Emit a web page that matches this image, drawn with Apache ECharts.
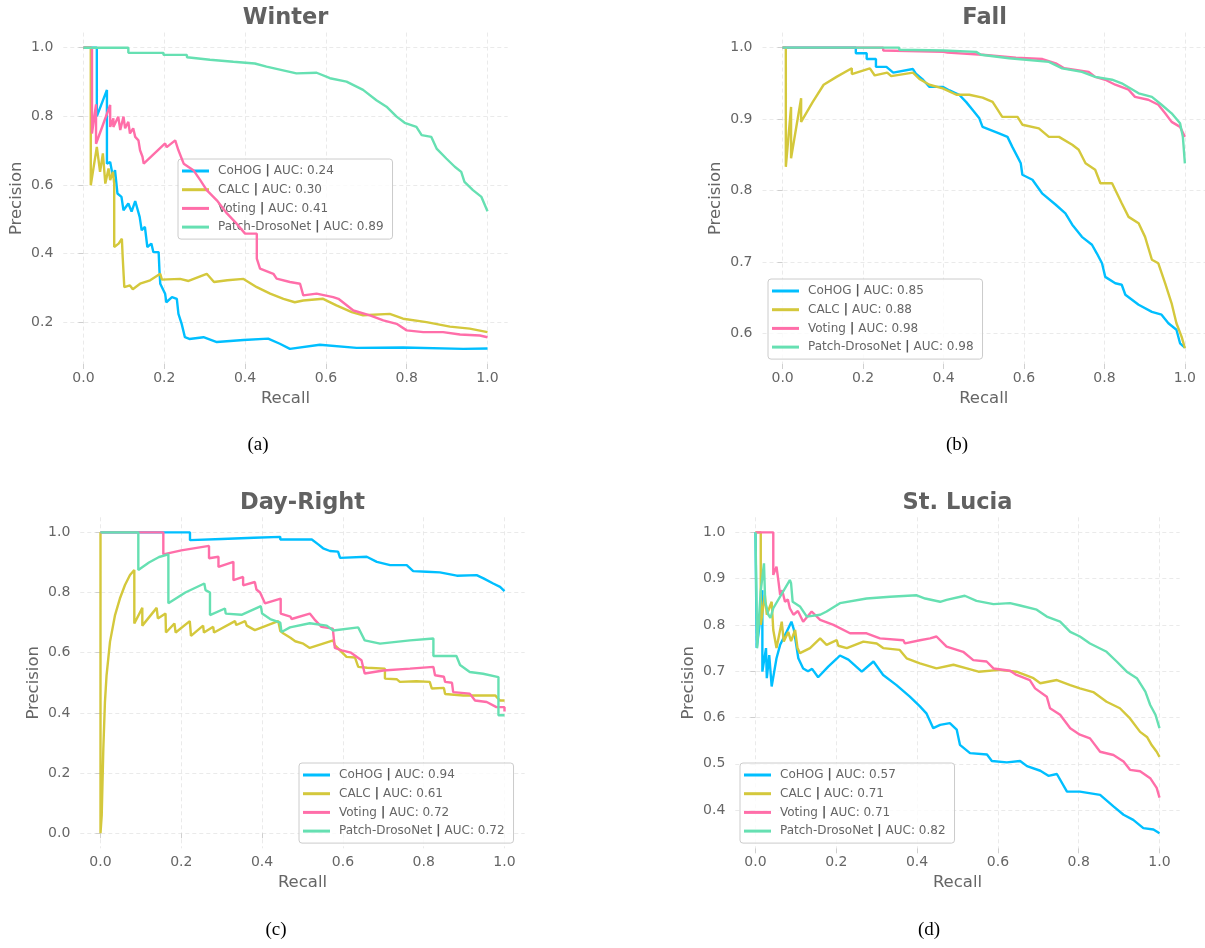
<!DOCTYPE html>
<html><head><meta charset="utf-8">
<script src="https://cdn.jsdelivr.net/npm/echarts@6/dist/echarts.min.js"></script>
<style>html,body{margin:0;padding:0;background:#fff}#c{width:1205px;height:948px}</style>
</head><body><div id="c"></div>
<script>
// ---------------- data ----------------
const methods = ['CoHOG', 'CALC', 'Voting', 'Patch-DrosoNet'];
const panelTitles = ['Winter', 'Fall', 'Day-Right', 'St. Lucia'];
const captions = ['(a)', '(b)', '(c)', '(d)'];
const aucWinter = ['0.24', '0.30', '0.41', '0.89'];
const aucFall = ['0.85', '0.88', '0.98', '0.98'];
const aucDayRight = ['0.94', '0.61', '0.72', '0.72'];
const aucStLucia = ['0.57', '0.71', '0.71', '0.82'];

const xTicks = [0.0, 0.2, 0.4, 0.6, 0.8, 1.0];
const yTicksWinter = [0.2, 0.4, 0.6, 0.8, 1.0];
const yTicksFall = [0.6, 0.7, 0.8, 0.9, 1.0];
const yTicksDayRight = [0.0, 0.2, 0.4, 0.6, 0.8, 1.0];
const yTicksStLucia = [0.4, 0.5, 0.6, 0.7, 0.8, 0.9, 1.0];

// [recall, precision]
const winterCoHOG = [[0,1],[0.033,1],[0.033,0.80],[0.058,0.877],[0.058,0.662],[0.066,0.667],[0.073,0.623],[0.078,0.643],[0.084,0.575],[0.094,0.565],[0.099,0.526],[0.111,0.546],[0.119,0.522],[0.128,0.553],[0.139,0.507],[0.144,0.468],[0.152,0.478],[0.158,0.419],[0.168,0.429],[0.173,0.404],[0.186,0.404],[0.188,0.351],[0.190,0.312],[0.202,0.283],[0.205,0.258],[0.219,0.273],[0.231,0.268],[0.235,0.224],[0.243,0.195],[0.251,0.156],[0.262,0.151],[0.297,0.156],[0.330,0.142],[0.396,0.148],[0.457,0.152],[0.486,0.137],[0.511,0.122],[0.585,0.134],[0.676,0.125],[0.791,0.126],[0.940,0.122],[1.0,0.123]];
const winterCALC = [[0,1],[0.018,1],[0.018,0.599],[0.033,0.711],[0.041,0.638],[0.048,0.692],[0.054,0.604],[0.062,0.648],[0.066,0.614],[0.073,0.638],[0.076,0.604],[0.076,0.419],[0.087,0.429],[0.095,0.443],[0.097,0.390],[0.101,0.302],[0.115,0.307],[0.122,0.296],[0.140,0.312],[0.165,0.322],[0.190,0.341],[0.194,0.324],[0.239,0.326],[0.260,0.320],[0.305,0.341],[0.323,0.317],[0.356,0.322],[0.396,0.326],[0.429,0.302],[0.462,0.283],[0.495,0.268],[0.523,0.258],[0.544,0.263],[0.593,0.268],[0.626,0.249],[0.664,0.229],[0.692,0.220],[0.758,0.224],[0.791,0.210],[0.849,0.200],[0.907,0.187],[0.956,0.181],[1.0,0.171]];
const winterVoting = [[0,1],[0.021,1],[0.021,0.75],[0.031,0.835],[0.031,0.72],[0.066,0.833],[0.066,0.769],[0.074,0.794],[0.074,0.769],[0.086,0.799],[0.091,0.760],[0.099,0.799],[0.103,0.765],[0.111,0.784],[0.115,0.75],[0.123,0.765],[0.128,0.740],[0.136,0.730],[0.140,0.701],[0.146,0.682],[0.149,0.662],[0.202,0.721],[0.206,0.710],[0.227,0.730],[0.235,0.701],[0.243,0.677],[0.248,0.662],[0.272,0.643],[0.289,0.614],[0.305,0.585],[0.330,0.555],[0.355,0.517],[0.379,0.487],[0.400,0.458],[0.429,0.458],[0.429,0.385],[0.437,0.356],[0.470,0.341],[0.478,0.327],[0.511,0.317],[0.536,0.312],[0.544,0.278],[0.577,0.283],[0.618,0.273],[0.631,0.268],[0.668,0.234],[0.709,0.220],[0.742,0.205],[0.775,0.195],[0.800,0.176],[0.841,0.171],[0.890,0.171],[0.932,0.164],[0.981,0.161],[1.0,0.156]];
const winterPatch = [[0,1],[0.111,1],[0.111,0.985],[0.198,0.985],[0.198,0.979],[0.256,0.979],[0.256,0.972],[0.313,0.965],[0.371,0.959],[0.424,0.954],[0.453,0.945],[0.527,0.925],[0.577,0.927],[0.610,0.911],[0.651,0.901],[0.692,0.877],[0.725,0.847],[0.750,0.828],[0.775,0.799],[0.795,0.781],[0.824,0.769],[0.837,0.745],[0.861,0.740],[0.874,0.706],[0.898,0.677],[0.919,0.653],[0.935,0.638],[0.943,0.609],[0.964,0.585],[0.985,0.565],[1.0,0.523]];

const fallCoHOG = [[0,1],[0.182,1],[0.182,0.992],[0.209,0.992],[0.209,0.984],[0.232,0.984],[0.232,0.973],[0.258,0.973],[0.275,0.965],[0.324,0.970],[0.332,0.963],[0.349,0.955],[0.365,0.945],[0.398,0.945],[0.415,0.940],[0.439,0.934],[0.456,0.924],[0.472,0.913],[0.489,0.901],[0.497,0.889],[0.538,0.880],[0.559,0.875],[0.571,0.861],[0.584,0.847],[0.592,0.838],[0.596,0.822],[0.621,0.815],[0.645,0.796],[0.679,0.780],[0.703,0.768],[0.720,0.752],[0.744,0.735],[0.769,0.724],[0.781,0.712],[0.794,0.698],[0.802,0.679],[0.827,0.670],[0.843,0.668],[0.852,0.654],[0.885,0.640],[0.918,0.630],[0.942,0.626],[0.959,0.614],[0.979,0.605],[0.988,0.586],[1.0,0.580]];
const fallCALC = [[0,1],[0.008,1],[0.008,0.833],[0.021,0.917],[0.021,0.845],[0.046,0.929],[0.046,0.896],[0.075,0.924],[0.102,0.948],[0.134,0.959],[0.172,0.971],[0.172,0.963],[0.217,0.971],[0.229,0.961],[0.260,0.965],[0.270,0.960],[0.324,0.965],[0.340,0.956],[0.365,0.948],[0.398,0.943],[0.432,0.934],[0.464,0.934],[0.497,0.930],[0.522,0.924],[0.546,0.903],[0.584,0.903],[0.596,0.892],[0.637,0.887],[0.662,0.875],[0.687,0.875],[0.720,0.864],[0.736,0.857],[0.753,0.838],[0.777,0.829],[0.790,0.810],[0.819,0.810],[0.843,0.782],[0.860,0.763],[0.885,0.754],[0.901,0.735],[0.918,0.703],[0.934,0.698],[0.951,0.670],[0.967,0.642],[0.979,0.614],[0.992,0.595],[1.0,0.579]];
const fallVoting = [[0,1],[0.250,1],[0.250,0.996],[0.400,0.994],[0.410,0.993],[0.497,0.990],[0.580,0.986],[0.646,0.984],[0.679,0.978],[0.700,0.971],[0.761,0.966],[0.777,0.959],[0.802,0.955],[0.827,0.948],[0.860,0.941],[0.876,0.931],[0.909,0.927],[0.934,0.920],[0.951,0.908],[0.967,0.896],[0.988,0.889],[1.0,0.875]];
const fallPatch = [[0,1],[0.290,1],[0.290,0.997],[0.400,0.996],[0.481,0.994],[0.493,0.990],[0.563,0.985],[0.662,0.980],[0.695,0.971],[0.744,0.966],[0.777,0.959],[0.819,0.955],[0.843,0.950],[0.885,0.936],[0.918,0.931],[0.942,0.920],[0.967,0.908],[0.988,0.894],[0.995,0.875],[1.0,0.838]];

const drCoHOG = [[0,1],[0.2215,1],[0.2215,0.974],[0.300,0.978],[0.380,0.982],[0.445,0.985],[0.445,0.976],[0.523,0.976],[0.539,0.960],[0.551,0.947],[0.568,0.938],[0.588,0.936],[0.593,0.915],[0.659,0.919],[0.684,0.902],[0.717,0.891],[0.758,0.891],[0.774,0.871],[0.807,0.869],[0.840,0.867],[0.882,0.856],[0.931,0.858],[0.948,0.847],[0.972,0.830],[0.989,0.819],[1.0,0.805]];
const drCALC = [[0,1],[0,0],[0.003,0.059],[0.007,0.281],[0.011,0.436],[0.015,0.525],[0.0235,0.636],[0.036,0.725],[0.048,0.780],[0.0606,0.825],[0.073,0.858],[0.0837,0.875],[0.0837,0.697],[0.1035,0.749],[0.1035,0.690],[0.139,0.749],[0.142,0.714],[0.161,0.730],[0.162,0.667],[0.183,0.697],[0.186,0.667],[0.221,0.705],[0.224,0.656],[0.254,0.690],[0.256,0.667],[0.279,0.686],[0.281,0.667],[0.333,0.705],[0.336,0.692],[0.358,0.705],[0.362,0.690],[0.382,0.675],[0.440,0.705],[0.445,0.672],[0.453,0.664],[0.470,0.650],[0.482,0.638],[0.502,0.630],[0.518,0.616],[0.576,0.641],[0.580,0.625],[0.609,0.586],[0.630,0.584],[0.638,0.553],[0.660,0.550],[0.704,0.547],[0.704,0.514],[0.733,0.512],[0.741,0.503],[0.782,0.505],[0.815,0.503],[0.820,0.481],[0.850,0.483],[0.853,0.463],[0.898,0.458],[0.977,0.458],[0.989,0.441],[1.0,0.441]];
const drVoting = [[0,1],[0.1555,1],[0.1555,0.927],[0.200,0.940],[0.2686,0.955],[0.2686,0.914],[0.292,0.919],[0.292,0.885],[0.329,0.902],[0.329,0.841],[0.353,0.852],[0.353,0.824],[0.382,0.835],[0.386,0.810],[0.395,0.800],[0.407,0.764],[0.446,0.780],[0.446,0.730],[0.470,0.720],[0.473,0.712],[0.518,0.730],[0.530,0.710],[0.547,0.686],[0.575,0.680],[0.580,0.616],[0.597,0.608],[0.620,0.600],[0.646,0.575],[0.654,0.531],[0.700,0.541],[0.766,0.547],[0.824,0.553],[0.828,0.525],[0.850,0.520],[0.853,0.503],[0.870,0.500],[0.873,0.469],[0.914,0.464],[0.927,0.441],[0.956,0.436],[0.980,0.419],[1.0,0.419],[1.0,0.405]];
const drPatch = [[0,1],[0.0936,1],[0.0936,0.875],[0.120,0.900],[0.145,0.918],[0.168,0.927],[0.168,0.764],[0.210,0.800],[0.257,0.830],[0.260,0.808],[0.271,0.800],[0.271,0.725],[0.308,0.747],[0.310,0.730],[0.349,0.726],[0.397,0.755],[0.400,0.730],[0.420,0.712],[0.445,0.700],[0.448,0.669],[0.469,0.684],[0.518,0.698],[0.560,0.690],[0.576,0.674],[0.638,0.684],[0.654,0.641],[0.692,0.630],[0.766,0.641],[0.824,0.647],[0.824,0.589],[0.881,0.589],[0.890,0.559],[0.914,0.536],[0.947,0.530],[0.985,0.519],[0.985,0.392],[1.0,0.392]];

const slCoHOG = [[0,1],[0.003,1],[0.003,0.75],[0.010,0.80],[0.017,0.875],[0.017,0.699],[0.026,0.75],[0.028,0.685],[0.034,0.735],[0.040,0.667],[0.052,0.728],[0.061,0.757],[0.077,0.785],[0.089,0.807],[0.095,0.790],[0.106,0.728],[0.118,0.706],[0.130,0.700],[0.140,0.705],[0.155,0.687],[0.180,0.710],[0.201,0.727],[0.209,0.734],[0.230,0.725],[0.263,0.699],[0.292,0.721],[0.316,0.692],[0.349,0.670],[0.382,0.645],[0.407,0.624],[0.423,0.609],[0.440,0.577],[0.457,0.584],[0.481,0.588],[0.498,0.574],[0.506,0.541],[0.531,0.523],[0.573,0.520],[0.585,0.506],[0.622,0.503],[0.655,0.506],[0.672,0.495],[0.705,0.485],[0.725,0.474],[0.746,0.478],[0.771,0.440],[0.803,0.440],[0.853,0.433],[0.886,0.408],[0.911,0.390],[0.935,0.379],[0.960,0.361],[0.985,0.358],[1.0,0.350]];
const slCALC = [[0,1],[0.013,1],[0.013,0.800],[0.023,0.865],[0.028,0.822],[0.040,0.850],[0.044,0.789],[0.052,0.750],[0.065,0.807],[0.070,0.764],[0.081,0.785],[0.088,0.765],[0.098,0.789],[0.104,0.750],[0.110,0.739],[0.135,0.750],[0.160,0.771],[0.176,0.757],[0.201,0.767],[0.205,0.755],[0.226,0.750],[0.267,0.764],[0.300,0.760],[0.316,0.750],[0.357,0.746],[0.374,0.728],[0.407,0.717],[0.448,0.706],[0.490,0.714],[0.523,0.706],[0.552,0.699],[0.605,0.703],[0.646,0.699],[0.688,0.685],[0.705,0.674],[0.746,0.681],[0.779,0.670],[0.803,0.663],[0.836,0.655],[0.869,0.634],[0.902,0.620],[0.927,0.598],[0.952,0.569],[0.969,0.558],[0.981,0.540],[0.993,0.526],[1.0,0.515]];
const slVoting = [[0,1],[0.044,1],[0.044,0.908],[0.052,0.926],[0.057,0.893],[0.061,0.865],[0.066,0.875],[0.073,0.850],[0.080,0.855],[0.085,0.836],[0.094,0.822],[0.105,0.830],[0.118,0.807],[0.139,0.829],[0.160,0.811],[0.193,0.800],[0.234,0.782],[0.275,0.782],[0.308,0.771],[0.366,0.767],[0.370,0.760],[0.407,0.767],[0.432,0.771],[0.448,0.775],[0.473,0.753],[0.514,0.742],[0.539,0.724],[0.572,0.721],[0.589,0.706],[0.630,0.701],[0.646,0.692],[0.679,0.681],[0.692,0.663],[0.721,0.645],[0.729,0.620],[0.754,0.606],[0.779,0.577],[0.803,0.563],[0.828,0.555],[0.853,0.526],[0.886,0.519],[0.911,0.505],[0.927,0.487],[0.952,0.484],[0.977,0.469],[0.993,0.448],[1.0,0.427]];
const slPatch = [[0,1],[0.003,1],[0.004,0.750],[0.0128,0.872],[0.021,0.933],[0.024,0.850],[0.032,0.822],[0.037,0.815],[0.044,0.836],[0.085,0.897],[0.088,0.890],[0.092,0.850],[0.110,0.840],[0.127,0.818],[0.160,0.822],[0.176,0.829],[0.209,0.847],[0.275,0.857],[0.333,0.861],[0.399,0.864],[0.420,0.857],[0.457,0.850],[0.473,0.854],[0.518,0.863],[0.547,0.852],[0.589,0.845],[0.630,0.847],[0.655,0.842],[0.696,0.833],[0.721,0.818],[0.754,0.807],[0.779,0.785],[0.803,0.775],[0.828,0.760],[0.869,0.742],[0.894,0.721],[0.919,0.699],[0.944,0.685],[0.965,0.656],[0.977,0.627],[0.990,0.606],[1.0,0.577]];

// ---------------- layout / style ----------------
const colors = ['#00bfff', '#d4c83c', '#ff6ea9', '#66e0b2'];
const panels = [
  {curves:[winterCoHOG,winterCALC,winterVoting,winterPatch], auc:aucWinter, yTicks:yTicksWinter, ymin:0.078, ymax:1.044,
   grid:{left:63.3, top:32.6, width:444.4, height:331.4}, legend:{left:178, top:159}, cap:[258,445]},
  {curves:[fallCoHOG,fallCALC,fallVoting,fallPatch], auc:aucFall, yTicks:yTicksFall, ymin:0.557, ymax:1.021,
   grid:{left:762.5, top:32.6, width:444.4, height:331.4}, legend:{left:768, top:279}, cap:[957,445]},
  {curves:[drCoHOG,drCALC,drVoting,drPatch], auc:aucDayRight, yTicks:yTicksDayRight, ymin:-0.05, ymax:1.05,
   grid:{left:80.3, top:517.3, width:444.4, height:331}, legend:{left:299, top:763}, cap:[276,930]},
  {curves:[slCoHOG,slCALC,slVoting,slPatch], auc:aucStLucia, yTicks:yTicksStLucia, ymin:0.3175, ymax:1.0325,
   grid:{left:735.3, top:517.3, width:444.4, height:331}, legend:{left:740, top:763}, cap:[929,930]}
];

const FONT = '"DejaVu Sans", sans-serif';
const grid = [], xAxis = [], yAxis = [], series = [], legend = [], graphic = [];
const fmt = v => v.toFixed(1);
const splitStyle = {show:true, lineStyle:{color:'#e4e4e4', width:0.8, type:[4,3]}};

panels.forEach((p, i) => {
  grid.push(Object.assign({containLabel:false}, p.grid));
  xAxis.push({
    gridIndex:i, type:'value', min:-0.05, max:1.05,
    axisLine:{show:false},
    axisTick:{show:true, length:5, lineStyle:{color:'#cfcfcf'}, customValues:xTicks},
    axisLabel:{customValues:xTicks, formatter:fmt, color:'#666', fontSize:14, margin:7, fontFamily:FONT},
    splitLine:splitStyle,
    name:'Recall', nameLocation:'middle', nameGap:26,
    nameTextStyle:{color:'#666', fontSize:16.5, fontFamily:FONT}
  });
  yAxis.push({
    gridIndex:i, type:'value', min:p.ymin, max:p.ymax,
    axisLine:{show:false},
    axisTick:{show:true, length:5, lineStyle:{color:'#cfcfcf'}, customValues:p.yTicks},
    axisLabel:{customValues:p.yTicks, formatter:fmt, color:'#666', fontSize:14, margin:10, fontFamily:FONT},
    splitLine:splitStyle,
    name:'Precision', nameLocation:'middle', nameGap:38,
    nameTextStyle:{color:'#666', fontSize:16.5, fontFamily:FONT}
  });
  const names = [];
  methods.forEach((m, k) => {
    const name = m + ' | AUC: ' + p.auc[k];
    names.push(name);
    series.push({
      type:'line', name, xAxisIndex:i, yAxisIndex:i, data:p.curves[k],
      symbol:'none', showSymbol:false, silent:true, z:2 + k,
      lineStyle:{color:colors[k], width:2.4}, itemStyle:{color:colors[k]},
      emphasis:{disabled:true}
    });
  });
  legend.push({
    data:names, orient:'vertical', left:p.legend.left, top:p.legend.top,
    icon:'rect', itemWidth:27, itemHeight:3, itemGap:4.7, padding:[5,9,5,4],
    backgroundColor:'rgba(255,255,255,0.8)', borderColor:'#cccccc', borderWidth:1, borderRadius:3,
    selectedMode:false,
    textStyle:{fontSize:12, lineHeight:14, color:'#666', fontFamily:FONT, padding:[0,0,0,4],
      rich:{b:{fontWeight:'bold', color:'#555', fontSize:13, lineHeight:14, fontFamily:FONT}}},
    formatter:n => n.replace(' | ', ' {b||} ')
  });
  const cx = p.grid.left + p.grid.width / 2;
  graphic.push({
    type:'text', x:cx, y:p.grid.top - 14.5, silent:true,
    style:{text:panelTitles[i], font:'bold 22.5px ' + FONT, fill:'#616161', align:'center', verticalAlign:'middle'}
  });
  graphic.push({
    type:'text', x:p.cap[0], y:p.cap[1], silent:true,
    style:{text:captions[i], font:'19px "Liberation Serif", "Times New Roman", serif', fill:'#000', align:'center', verticalAlign:'middle'}
  });
});

const chart = echarts.init(document.getElementById('c'), null, {renderer:'canvas'});
chart.setOption({
  backgroundColor:'#ffffff', animation:false,
  grid, xAxis, yAxis, series, legend, graphic
});
</script>
</body></html>
